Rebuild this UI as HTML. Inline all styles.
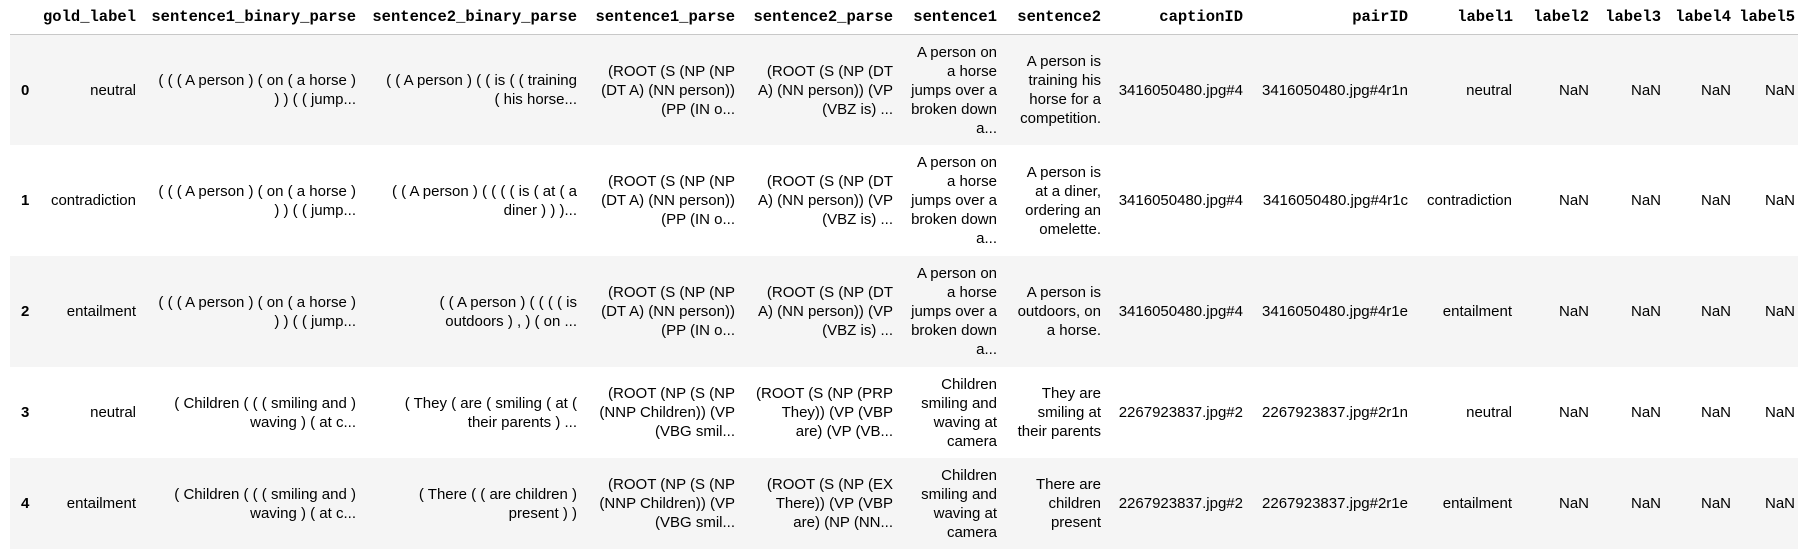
<!DOCTYPE html>
<html><head><meta charset="utf-8"><style>
body{margin:0;width:1817px;height:559px;background:#fff;position:relative;overflow:hidden;font-family:"Liberation Sans",Arial,sans-serif;font-size:15px;color:#000}
.h{position:absolute;top:0;height:34px;line-height:34px;font-family:"Liberation Mono",monospace;font-weight:bold;font-size:15.5px;text-align:right;white-space:nowrap}
.hl{position:absolute;left:10px;width:1788px;top:34px;height:1px;background:#c8c8c8}
.r{position:absolute;left:10px;width:1788px}
.c{position:absolute;top:0;bottom:0;display:flex;align-items:center;justify-content:flex-end;text-align:right;line-height:19px;white-space:nowrap}
.i{position:absolute;left:11px;top:0;bottom:0;display:flex;align-items:center;font-weight:bold}
</style></head><body>
<div class="h" style="right:1681px">gold_label</div>
<div class="h" style="right:1461px">sentence1_binary_parse</div>
<div class="h" style="right:1240px">sentence2_binary_parse</div>
<div class="h" style="right:1082px">sentence1_parse</div>
<div class="h" style="right:924px">sentence2_parse</div>
<div class="h" style="right:820px">sentence1</div>
<div class="h" style="right:716px">sentence2</div>
<div class="h" style="right:574px">captionID</div>
<div class="h" style="right:409px">pairID</div>
<div class="h" style="right:304px">label1</div>
<div class="h" style="right:228px">label2</div>
<div class="h" style="right:156px">label3</div>
<div class="h" style="right:86px">label4</div>
<div class="h" style="right:22px">label5</div>
<div class="hl"></div>

<div class="r" style="top:35px;height:110px;background:#f5f5f5">
<div class="i">0</div>
<div class="c" style="right:1662px">neutral</div>
<div class="c" style="right:1442px">( ( ( A person ) ( on ( a horse )<br>) ) ( ( jump...</div>
<div class="c" style="right:1221px">( ( A person ) ( ( is ( ( training<br>( his horse...</div>
<div class="c" style="right:1063px">(ROOT (S (NP (NP<br>(DT A) (NN person))<br>(PP (IN o...</div>
<div class="c" style="right:905px">(ROOT (S (NP (DT<br>A) (NN person)) (VP<br>(VBZ is) ...</div>
<div class="c" style="right:801px">A person on<br>a horse<br>jumps over a<br>broken down<br>a...</div>
<div class="c" style="right:697px">A person is<br>training his<br>horse for a<br>competition.</div>
<div class="c" style="right:555px">3416050480.jpg#4</div>
<div class="c" style="right:390px">3416050480.jpg#4r1n</div>
<div class="c" style="right:286px">neutral</div>
<div class="c" style="right:209px">NaN</div><div class="c" style="right:137px">NaN</div><div class="c" style="right:67px">NaN</div><div class="c" style="right:3px">NaN</div>
</div>

<div class="r" style="top:145px;height:111px;background:#fff">
<div class="i">1</div>
<div class="c" style="right:1662px">contradiction</div>
<div class="c" style="right:1442px">( ( ( A person ) ( on ( a horse )<br>) ) ( ( jump...</div>
<div class="c" style="right:1221px">( ( A person ) ( ( ( ( is ( at ( a<br>diner ) ) )...</div>
<div class="c" style="right:1063px">(ROOT (S (NP (NP<br>(DT A) (NN person))<br>(PP (IN o...</div>
<div class="c" style="right:905px">(ROOT (S (NP (DT<br>A) (NN person)) (VP<br>(VBZ is) ...</div>
<div class="c" style="right:801px">A person on<br>a horse<br>jumps over a<br>broken down<br>a...</div>
<div class="c" style="right:697px">A person is<br>at a diner,<br>ordering an<br>omelette.</div>
<div class="c" style="right:555px">3416050480.jpg#4</div>
<div class="c" style="right:390px">3416050480.jpg#4r1c</div>
<div class="c" style="right:286px">contradiction</div>
<div class="c" style="right:209px">NaN</div><div class="c" style="right:137px">NaN</div><div class="c" style="right:67px">NaN</div><div class="c" style="right:3px">NaN</div>
</div>

<div class="r" style="top:256px;height:111px;background:#f5f5f5">
<div class="i">2</div>
<div class="c" style="right:1662px">entailment</div>
<div class="c" style="right:1442px">( ( ( A person ) ( on ( a horse )<br>) ) ( ( jump...</div>
<div class="c" style="right:1221px">( ( A person ) ( ( ( ( is<br>outdoors ) , ) ( on ...</div>
<div class="c" style="right:1063px">(ROOT (S (NP (NP<br>(DT A) (NN person))<br>(PP (IN o...</div>
<div class="c" style="right:905px">(ROOT (S (NP (DT<br>A) (NN person)) (VP<br>(VBZ is) ...</div>
<div class="c" style="right:801px">A person on<br>a horse<br>jumps over a<br>broken down<br>a...</div>
<div class="c" style="right:697px">A person is<br>outdoors, on<br>a horse.</div>
<div class="c" style="right:555px">3416050480.jpg#4</div>
<div class="c" style="right:390px">3416050480.jpg#4r1e</div>
<div class="c" style="right:286px">entailment</div>
<div class="c" style="right:209px">NaN</div><div class="c" style="right:137px">NaN</div><div class="c" style="right:67px">NaN</div><div class="c" style="right:3px">NaN</div>
</div>

<div class="r" style="top:367px;height:91px;background:#fff">
<div class="i">3</div>
<div class="c" style="right:1662px">neutral</div>
<div class="c" style="right:1442px">( Children ( ( ( smiling and )<br>waving ) ( at c...</div>
<div class="c" style="right:1221px">( They ( are ( smiling ( at (<br>their parents ) ...</div>
<div class="c" style="right:1063px">(ROOT (NP (S (NP<br>(NNP Children)) (VP<br>(VBG smil...</div>
<div class="c" style="right:905px">(ROOT (S (NP (PRP<br>They)) (VP (VBP<br>are) (VP (VB...</div>
<div class="c" style="right:801px">Children<br>smiling and<br>waving at<br>camera</div>
<div class="c" style="right:697px">They are<br>smiling at<br>their parents</div>
<div class="c" style="right:555px">2267923837.jpg#2</div>
<div class="c" style="right:390px">2267923837.jpg#2r1n</div>
<div class="c" style="right:286px">neutral</div>
<div class="c" style="right:209px">NaN</div><div class="c" style="right:137px">NaN</div><div class="c" style="right:67px">NaN</div><div class="c" style="right:3px">NaN</div>
</div>

<div class="r" style="top:458px;height:91px;background:#f5f5f5">
<div class="i">4</div>
<div class="c" style="right:1662px">entailment</div>
<div class="c" style="right:1442px">( Children ( ( ( smiling and )<br>waving ) ( at c...</div>
<div class="c" style="right:1221px">( There ( ( are children )<br>present ) )</div>
<div class="c" style="right:1063px">(ROOT (NP (S (NP<br>(NNP Children)) (VP<br>(VBG smil...</div>
<div class="c" style="right:905px">(ROOT (S (NP (EX<br>There)) (VP (VBP<br>are) (NP (NN...</div>
<div class="c" style="right:801px">Children<br>smiling and<br>waving at<br>camera</div>
<div class="c" style="right:697px">There are<br>children<br>present</div>
<div class="c" style="right:555px">2267923837.jpg#2</div>
<div class="c" style="right:390px">2267923837.jpg#2r1e</div>
<div class="c" style="right:286px">entailment</div>
<div class="c" style="right:209px">NaN</div><div class="c" style="right:137px">NaN</div><div class="c" style="right:67px">NaN</div><div class="c" style="right:3px">NaN</div>
</div>
</body></html>
